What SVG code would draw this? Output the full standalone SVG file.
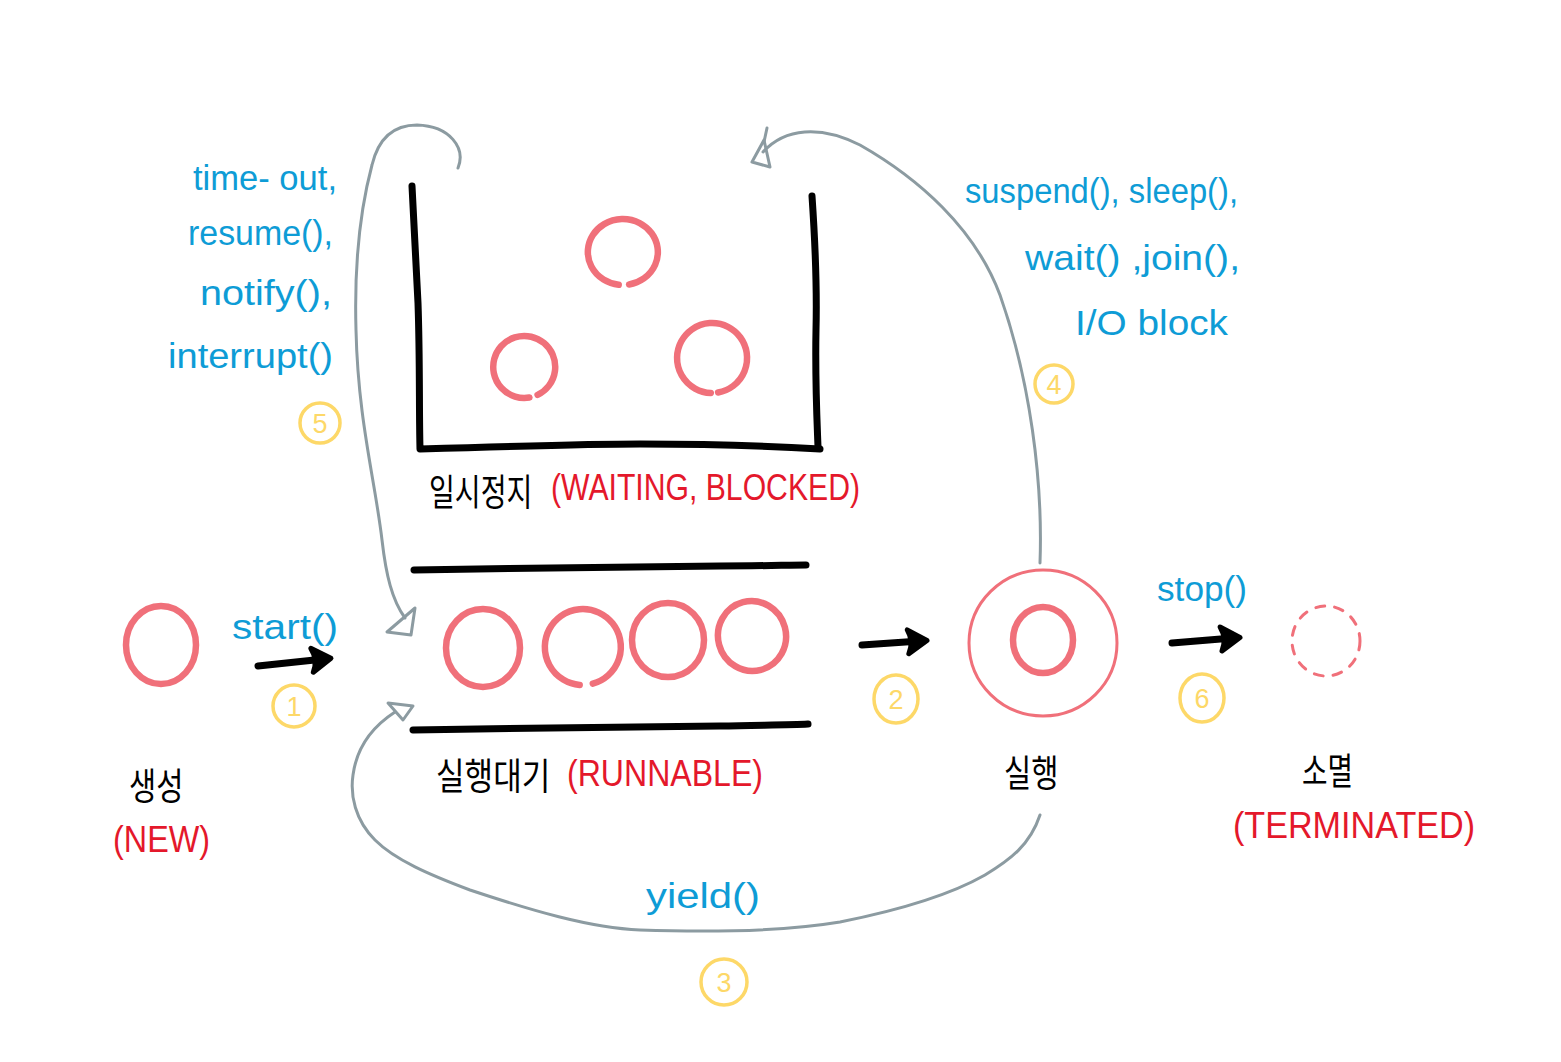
<svg xmlns="http://www.w3.org/2000/svg" width="1561" height="1062" viewBox="0 0 1561 1062">
<defs>
<style>
.bg{fill:#ffffff}
.ink{fill:none;stroke:#000;stroke-width:7;stroke-linecap:round;stroke-linejoin:round}
.thread{fill:none;stroke:#F0707A;stroke-width:6.5;stroke-linecap:round}
.thin{fill:none;stroke:#F0707A;stroke-width:3;stroke-linecap:round}
.dash{fill:none;stroke:#F0707A;stroke-width:3;stroke-dasharray:9 10;stroke-linecap:round}
.flow{fill:none;stroke:#8C9BA1;stroke-width:3;stroke-linecap:round;stroke-linejoin:round}
.hollow{fill:none;stroke:#8C9BA1;stroke-width:3;stroke-linejoin:round;stroke-linecap:round}
.num{fill:none;stroke:#FDD868;stroke-width:3.5}
.numt{font-family:"Liberation Sans",sans-serif;font-size:27px;fill:#FDD868;text-anchor:middle}
.blue{font-family:"Liberation Sans",sans-serif;font-size:35px;fill:#0E9CD6}
.red{font-family:"Liberation Sans",sans-serif;font-size:36px;fill:#E4182B}
.ko{font-family:"Liberation Sans","Noto Sans CJK KR",sans-serif;font-size:37px;fill:#000}
</style>
<marker id="head" viewBox="-3 -17 27 34" markerWidth="27" markerHeight="34" refX="12" refY="0" orient="auto" markerUnits="userSpaceOnUse">
<path d="M0,-12 Q6,0 0,12 L19,0 Z" fill="#000" stroke="#000" stroke-width="5" stroke-linejoin="round"/>
</marker>
</defs>
<rect class="bg" x="0" y="0" width="1561" height="1062"/>

<g id="new">
<ellipse class="thread" cx="161" cy="645" rx="35" ry="39"/>
<text class="ko" transform="translate(129 800) scale(0.8 1)">생성</text>
<text class="red" x="113" y="852" font-size="34" textLength="97" lengthAdjust="spacingAndGlyphs">(NEW)</text>
</g>

<g id="runnable">
<path class="ink" d="M414,570 C520,568 650,567 720,566 C760,566 790,565 806,565"/>
<path class="ink" d="M413,730 C520,728 640,727 720,726 C760,725 790,725 808,724"/>
<ellipse class="thread" cx="483" cy="648" rx="37" ry="39"/>
<path class="thread" d="M592.8,683.7 A38,38 0 1 0 579.7,684.9"/>
<ellipse class="thread" cx="668" cy="640" rx="36" ry="37"/>
<ellipse class="thread" cx="752" cy="636" rx="34" ry="35" transform="rotate(-15 752 636)"/>
<text class="ko" transform="translate(436 790) scale(0.84 1)">실행대기</text>
<text class="red" x="567" y="786" textLength="196" lengthAdjust="spacingAndGlyphs">(RUNNABLE)</text>
</g>

<g id="waiting">
<path class="ink" d="M412,186 C414,230 416,270 418,303 C420,360 419,410 420,449 C520,446 600,444 640,444 C720,444 770,446 820,449"/>
<path class="ink" d="M812,196 C815,240 817,290 816,330 C815,380 817,420 818,447"/>
<path class="thread" d="M629.1,284.5 A35,33 0 1 0 618.7,284.8"/>
<path class="thread" d="M537.6,394.9 A31,31 0 1 0 529.4,397.5"/>
<path class="thread" d="M718.1,392.5 A35,35 0 1 0 710.8,393"/>
<text class="ko" transform="translate(429 506) scale(0.76 1)">일시정지</text>
<text class="red" x="551" y="500" textLength="309" lengthAdjust="spacingAndGlyphs">(WAITING, BLOCKED)</text>
</g>

<g id="running">
<ellipse class="thin" cx="1043" cy="643" rx="74" ry="73"/>
<ellipse class="thread" cx="1043" cy="640" rx="30" ry="33"/>
<text class="ko" transform="translate(1004 787) scale(0.8 1)">실행</text>
</g>

<g id="terminated">
<ellipse class="dash" cx="1326" cy="641" rx="34" ry="35"/>
<text class="ko" transform="translate(1302 785) scale(0.75 1)">소멸</text>
<text class="red" x="1233" y="838" textLength="242" lengthAdjust="spacingAndGlyphs">(TERMINATED)</text>
</g>

<g id="connectors">
<g id="c1">
<path class="ink" d="M258,666 L324,659" marker-end="url(#head)"/>
<text class="blue" x="232" y="639" textLength="106" lengthAdjust="spacingAndGlyphs">start()</text>
<circle class="num" cx="294" cy="706" r="21"/>
<text class="numt" x="294" y="716">1</text>
</g>
<g id="c2">
<path class="ink" d="M862,645 L920,641" marker-end="url(#head)"/>
<ellipse class="num" cx="896" cy="699" rx="22" ry="24"/>
<text class="numt" x="896" y="709">2</text>
</g>
<g id="c3">
<path class="flow" d="M1040,815 C1030,845 1010,860 985,875 C950,895 900,910 840,922 C780,932 700,932 640,930 C590,928 530,910 470,890 C430,875 395,860 375,840 C355,820 350,795 353,775 C357,745 375,725 395,712"/>
<polygon class="hollow" points="388,703 413,706 403,720"/>
<text class="blue" x="646" y="908" textLength="114" lengthAdjust="spacingAndGlyphs">yield()</text>
<ellipse class="num" cx="724" cy="982" rx="23" ry="23"/>
<text class="numt" x="724" y="992">3</text>
</g>
<g id="c4">
<path class="flow" d="M1040,563 C1043,480 1030,380 1000,295 C975,228 918,178 860,145 C820,125 785,128 763,152"/>
<polygon class="hollow" points="752,162 770,167 764,140"/>
<path class="hollow" d="M767,128 L764,142"/>
<text class="blue" x="965" y="203" font-size="34" textLength="273" lengthAdjust="spacingAndGlyphs">suspend(), sleep(),</text>
<text class="blue" x="1025" y="270" font-size="34" textLength="215" lengthAdjust="spacingAndGlyphs">wait() ,join(),</text>
<text class="blue" x="1075" y="335" font-size="34" textLength="153" lengthAdjust="spacingAndGlyphs">I/O block</text>
<circle class="num" cx="1054" cy="384" r="19"/>
<text class="numt" x="1054" y="394">4</text>
</g>
<g id="c5">
<path class="flow" d="M458,168 C466,148 450,126 417,125 C392,125 378,140 372,165 C360,210 354,260 356,330 C358,420 375,480 382,540 C386,575 392,600 405,618"/>
<polygon class="hollow" points="387,632 411,635 415,608"/>
<text class="blue" x="193" y="190" textLength="144" lengthAdjust="spacingAndGlyphs">time- out,</text>
<text class="blue" x="188" y="245" textLength="145" lengthAdjust="spacingAndGlyphs">resume(),</text>
<text class="blue" x="200" y="305" textLength="132" lengthAdjust="spacingAndGlyphs">notify(),</text>
<text class="blue" x="168" y="368" textLength="165" lengthAdjust="spacingAndGlyphs">interrupt()</text>
<circle class="num" cx="320" cy="423" r="20"/>
<text class="numt" x="320" y="433">5</text>
</g>
<g id="c6">
<path class="ink" d="M1172,643 L1233,638" marker-end="url(#head)"/>
<text class="blue" x="1157" y="601" textLength="90" lengthAdjust="spacingAndGlyphs">stop()</text>
<ellipse class="num" cx="1202" cy="698" rx="22" ry="24"/>
<text class="numt" x="1202" y="708">6</text>
</g>
</g>
</svg>
